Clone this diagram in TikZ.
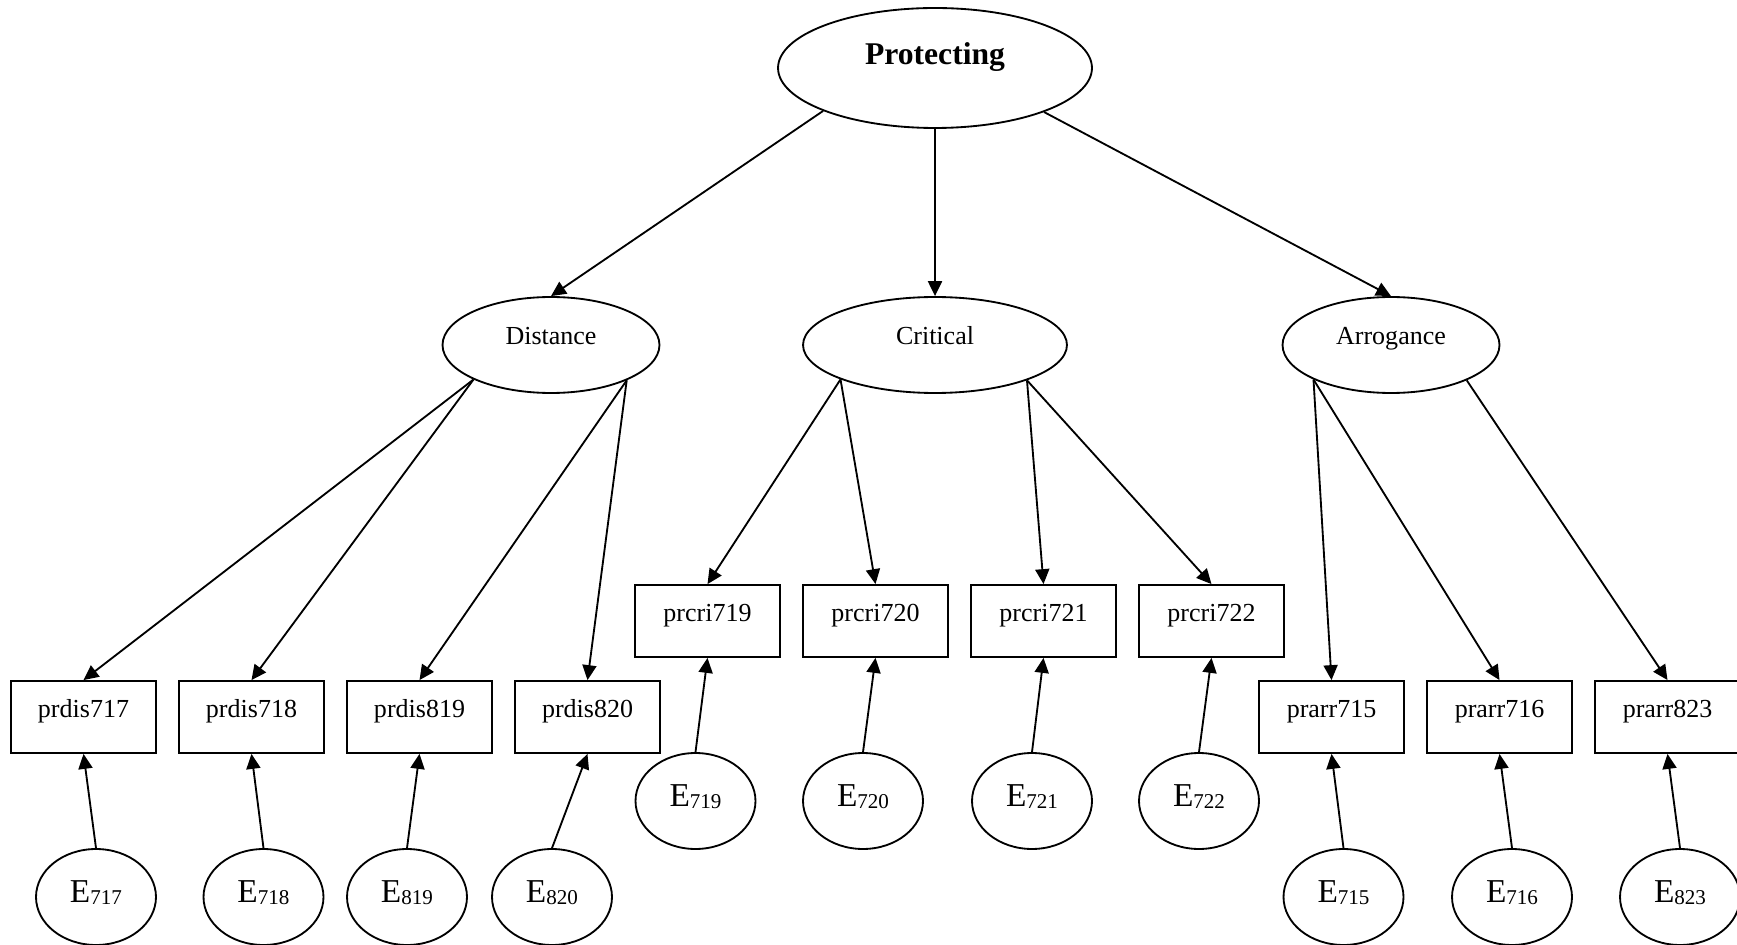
\documentclass[tikz,border=0pt]{standalone}
\usepackage{fontspec}
\setmainfont{Liberation Serif}
\usetikzlibrary{arrows.meta,shapes.geometric}
\newcommand{\errlab}[1]{{\fontsize{19}{19}\selectfont E}\raisebox{-1.7pt}{\fontsize{12}{12}\selectfont #1}}

\begin{document}
\begin{tikzpicture}[x=0.02cm,y=-0.02cm,
latent/.style={ellipse,draw,line width=1.05pt,minimum width=4.34cm,minimum height=1.92cm,
inner sep=0pt,font=\fontsize{14.8}{16}\selectfont,text height=0.7em,text depth=0.7em},
box/.style={rectangle,draw,line width=1.05pt,minimum width=2.9cm,minimum height=1.44cm,
inner sep=0pt,font=\fontsize{14.8}{16}\selectfont,text height=0.7em,text depth=0.7em},
err/.style={ellipse,draw,line width=1.05pt,minimum width=2.4cm,minimum height=1.92cm,
inner sep=0pt,text height=0.5cm,text depth=0.3cm},
arrow/.style={-{Triangle[length=8.5pt,width=8pt]},line width=1.05pt}
]
\useasboundingbox (0,0) rectangle (1737,945);
% second-order factor and first-order factors
\node[latent,minimum width=6.28cm,minimum height=2.4cm,font=\bfseries\fontsize{18}{20}\selectfont,
text height=0.5cm,text depth=0.62cm] (prot) at (935,68) {Protecting};
\node[latent] (dist) at (551,345) {Distance};
\node[latent,minimum width=5.28cm] (crit) at (935,345) {Critical};
\node[latent] (arr) at (1391,345) {Arrogance};
% indicators
\node[box] (p717) at (83.5,717) {prdis717};
\node[box] (p718) at (251.5,717) {prdis718};
\node[box] (p819) at (419.5,717) {prdis819};
\node[box] (p820) at (587.5,717) {prdis820};
\node[box] (p719) at (707.5,621) {prcri719};
\node[box] (p720) at (875.5,621) {prcri720};
\node[box] (p721) at (1043.5,621) {prcri721};
\node[box] (p722) at (1211.5,621) {prcri722};
\node[box] (p715) at (1331.5,717) {prarr715};
\node[box] (p716) at (1499.5,717) {prarr716};
\node[box] (p823) at (1667.5,717) {prarr823};
% error terms
\node[err] (e717) at (96,897) {\errlab{717}};
\node[err] (e718) at (263.5,897) {\errlab{718}};
\node[err] (e819) at (407,897) {\errlab{819}};
\node[err] (e820) at (552,897) {\errlab{820}};
\node[err] (e719) at (695.5,801) {\errlab{719}};
\node[err] (e720) at (863,801) {\errlab{720}};
\node[err] (e721) at (1032,801) {\errlab{721}};
\node[err] (e722) at (1199,801) {\errlab{722}};
\node[err] (e715) at (1343.5,897) {\errlab{715}};
\node[err] (e716) at (1512,897) {\errlab{716}};
\node[err] (e823) at (1680,897) {\errlab{823}};
% loadings
\draw[arrow] (prot.201.4)--(dist.north); \draw[arrow] (prot.south)--(crit.north); \draw[arrow] (prot.338.4)--(arr.north);
\draw[arrow] (dist.204.4)--(p717.north); \draw[arrow] (dist.204.4)--(p718.north);
\draw[arrow] (dist.335.6)--(p819.north); \draw[arrow] (dist.335.6)--(p820.north);
\draw[arrow] (crit.200.8)--(p719.north); \draw[arrow] (crit.200.8)--(p720.north);
\draw[arrow] (crit.339.6)--(p721.north); \draw[arrow] (crit.339.6)--(p722.north);
\draw[arrow] (arr.204.7)--(p715.north); \draw[arrow] (arr.204.7)--(p716.north); \draw[arrow] (arr.335.6)--(p823.north);
% errors
\draw[arrow] (e717.north)--(p717.south); \draw[arrow] (e718.north)--(p718.south);
\draw[arrow] (e819.north)--(p819.south); \draw[arrow] (e820.north)--(p820.south);
\draw[arrow] (e719.north)--(p719.south); \draw[arrow] (e720.north)--(p720.south);
\draw[arrow] (e721.north)--(p721.south); \draw[arrow] (e722.north)--(p722.south);
\draw[arrow] (e715.north)--(p715.south); \draw[arrow] (e716.north)--(p716.south); \draw[arrow] (e823.north)--(p823.south);
\end{tikzpicture}
\end{document}
